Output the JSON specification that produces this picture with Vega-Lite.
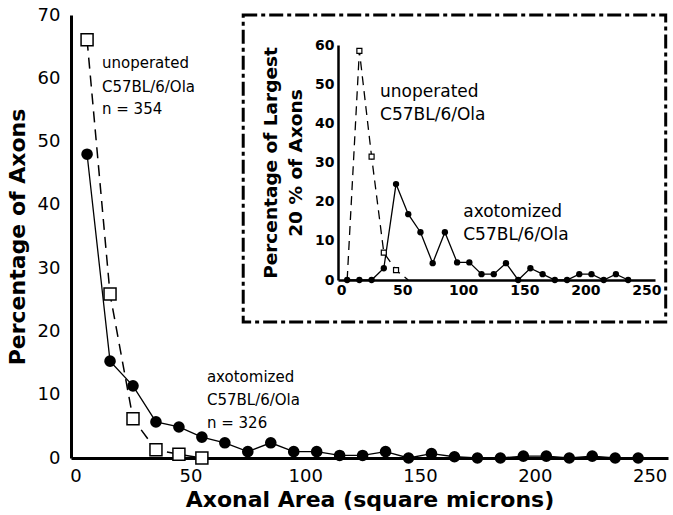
{
  "$schema": "https://vega.github.io/schema/vega-lite/v6.json",
  "width": 597,
  "height": 443,
  "autosize": "none",
  "padding": {"left": 71, "top": 15, "right": 5, "bottom": 57},
  "background": "white",
  "config": {
    "view": {"stroke": null},
    "font": "DejaVu Sans",
    "axis": {"grid": false, "domainColor": "black", "labelColor": "black", "titleColor": "black", "ticks": false}
  },
  "datasets": {
    "pts": [
      {"panel": "main", "group": "axotomized", "area": 5, "pct": 48.0},
      {"panel": "main", "group": "axotomized", "area": 15, "pct": 15.3},
      {"panel": "main", "group": "axotomized", "area": 25, "pct": 11.4},
      {"panel": "main", "group": "axotomized", "area": 35, "pct": 5.7},
      {"panel": "main", "group": "axotomized", "area": 45, "pct": 4.9},
      {"panel": "main", "group": "axotomized", "area": 55, "pct": 3.3},
      {"panel": "main", "group": "axotomized", "area": 65, "pct": 2.4},
      {"panel": "main", "group": "axotomized", "area": 75, "pct": 1.0},
      {"panel": "main", "group": "axotomized", "area": 85, "pct": 2.4},
      {"panel": "main", "group": "axotomized", "area": 95, "pct": 1.0},
      {"panel": "main", "group": "axotomized", "area": 105, "pct": 1.0},
      {"panel": "main", "group": "axotomized", "area": 115, "pct": 0.4},
      {"panel": "main", "group": "axotomized", "area": 125, "pct": 0.4},
      {"panel": "main", "group": "axotomized", "area": 135, "pct": 1.0},
      {"panel": "main", "group": "axotomized", "area": 145, "pct": 0.0},
      {"panel": "main", "group": "axotomized", "area": 155, "pct": 0.7},
      {"panel": "main", "group": "axotomized", "area": 165, "pct": 0.2},
      {"panel": "main", "group": "axotomized", "area": 175, "pct": 0.0},
      {"panel": "main", "group": "axotomized", "area": 185, "pct": 0.0},
      {"panel": "main", "group": "axotomized", "area": 195, "pct": 0.3},
      {"panel": "main", "group": "axotomized", "area": 205, "pct": 0.3},
      {"panel": "main", "group": "axotomized", "area": 215, "pct": 0.0},
      {"panel": "main", "group": "axotomized", "area": 225, "pct": 0.3},
      {"panel": "main", "group": "axotomized", "area": 235, "pct": 0.0},
      {"panel": "main", "group": "axotomized", "area": 245, "pct": 0.0},
      {"panel": "main", "group": "unoperated", "area": 5, "pct": 66.1},
      {"panel": "main", "group": "unoperated", "area": 15, "pct": 25.9},
      {"panel": "main", "group": "unoperated", "area": 25, "pct": 6.2},
      {"panel": "main", "group": "unoperated", "area": 35, "pct": 1.3},
      {"panel": "main", "group": "unoperated", "area": 45, "pct": 0.6},
      {"panel": "main", "group": "unoperated", "area": 55, "pct": 0.0},
      {"panel": "inset", "group": "axotomized", "area": 5, "pct": 0},
      {"panel": "inset", "group": "axotomized", "area": 15, "pct": 0},
      {"panel": "inset", "group": "axotomized", "area": 25, "pct": 0},
      {"panel": "inset", "group": "axotomized", "area": 35, "pct": 3.0},
      {"panel": "inset", "group": "axotomized", "area": 45, "pct": 24.5},
      {"panel": "inset", "group": "axotomized", "area": 55, "pct": 16.8},
      {"panel": "inset", "group": "axotomized", "area": 65, "pct": 12.2},
      {"panel": "inset", "group": "axotomized", "area": 75, "pct": 4.3},
      {"panel": "inset", "group": "axotomized", "area": 85, "pct": 12.2},
      {"panel": "inset", "group": "axotomized", "area": 95, "pct": 4.5},
      {"panel": "inset", "group": "axotomized", "area": 105, "pct": 4.5},
      {"panel": "inset", "group": "axotomized", "area": 115, "pct": 1.5},
      {"panel": "inset", "group": "axotomized", "area": 125, "pct": 1.5},
      {"panel": "inset", "group": "axotomized", "area": 135, "pct": 4.3},
      {"panel": "inset", "group": "axotomized", "area": 145, "pct": 0},
      {"panel": "inset", "group": "axotomized", "area": 155, "pct": 3.0},
      {"panel": "inset", "group": "axotomized", "area": 165, "pct": 1.5},
      {"panel": "inset", "group": "axotomized", "area": 175, "pct": 0},
      {"panel": "inset", "group": "axotomized", "area": 185, "pct": 0},
      {"panel": "inset", "group": "axotomized", "area": 195, "pct": 1.5},
      {"panel": "inset", "group": "axotomized", "area": 205, "pct": 1.5},
      {"panel": "inset", "group": "axotomized", "area": 215, "pct": 0},
      {"panel": "inset", "group": "axotomized", "area": 225, "pct": 1.5},
      {"panel": "inset", "group": "axotomized", "area": 235, "pct": 0},
      {"panel": "inset", "group": "unoperated", "area": 5, "pct": 0},
      {"panel": "inset", "group": "unoperated", "area": 15, "pct": 58.5},
      {"panel": "inset", "group": "unoperated", "area": 25, "pct": 31.5},
      {"panel": "inset", "group": "unoperated", "area": 35, "pct": 7.0},
      {"panel": "inset", "group": "unoperated", "area": 45, "pct": 2.5},
      {"panel": "inset", "group": "unoperated", "area": 55, "pct": 0}
    ],
    "box": [{"area": 73, "area2": 257, "pct": 21.5, "pct2": 70}],
    "notes": [
      {"panel": "main", "area": 11.5, "pct": 62.4, "label": "unoperated"},
      {"panel": "main", "area": 11.5, "pct": 58.6, "label": "C57BL/6/Ola"},
      {"panel": "main", "area": 11.5, "pct": 55.1, "label": "n = 354"},
      {"panel": "main", "area": 57.2, "pct": 12.8, "label": "axotomized"},
      {"panel": "main", "area": 57.2, "pct": 9.2, "label": "C57BL/6/Ola"},
      {"panel": "main", "area": 57.2, "pct": 5.5, "label": "n = 326"},
      {"panel": "inset", "area": 31.9, "pct": 48.0, "label": "unoperated"},
      {"panel": "inset", "area": 31.9, "pct": 42.1, "label": "C57BL/6/Ola"},
      {"panel": "inset", "area": 100, "pct": 17.4, "label": "axotomized"},
      {"panel": "inset", "area": 100, "pct": 11.5, "label": "C57BL/6/Ola"}
    ]
  },
  "layer": [
    {
      "encoding": {
        "x": {"field": "area", "type": "quantitative",
          "scale": {"domain": [-2, 258], "nice": false, "zero": false},
          "axis": {"values": [0, 50, 100, 150, 200, 250], "labelFontSize": 18, "labelPadding": 9, "domainWidth": 3,
            "title": "Axonal Area (square microns)", "titleFontSize": 22, "titleFontWeight": "bold", "titlePadding": 4}},
        "y": {"field": "pct", "type": "quantitative",
          "scale": {"domain": [0, 70], "nice": false, "zero": false},
          "axis": {"values": [0, 10, 20, 30, 40, 50, 60, 70], "labelFontSize": 18, "labelPadding": 11, "domainWidth": 3,
            "title": "Percentage of Axons", "titleFontSize": 22, "titleFontWeight": "bold", "titlePadding": 8}}
      },
      "layer": [
        {
          "data": {"name": "box"},
          "mark": {"type": "rect", "fill": "transparent", "stroke": "black", "strokeWidth": 3, "strokeDash": [14, 4, 4, 4]},
          "encoding": {
            "x2": {"field": "area2"},
            "y2": {"field": "pct2"}
          }
        },
        {
          "data": {"name": "pts"},
          "transform": [{"filter": "datum.panel === 'main' && datum.group === 'unoperated'"}],
          "mark": {"type": "line", "color": "black", "strokeWidth": 1.5, "strokeDash": [11, 7]}
        },
        {
          "data": {"name": "pts"},
          "transform": [{"filter": "datum.panel === 'main' && datum.group === 'axotomized'"}],
          "mark": {"type": "line", "color": "black", "strokeWidth": 1.3}
        },
        {
          "data": {"name": "pts"},
          "transform": [{"filter": "datum.panel === 'main' && datum.group === 'unoperated'"}],
          "mark": {"type": "point", "shape": "square", "size": 144, "filled": true, "fill": "white", "stroke": "black", "strokeWidth": 1.5, "opacity": 1}
        },
        {
          "data": {"name": "pts"},
          "transform": [{"filter": "datum.panel === 'main' && datum.group === 'axotomized'"}],
          "mark": {"type": "point", "shape": "circle", "size": 135, "filled": true, "color": "black", "opacity": 1}
        },
        {
          "data": {"name": "notes"},
          "transform": [{"filter": "datum.panel === 'main'"}],
          "mark": {"type": "text", "align": "left", "baseline": "middle", "fontSize": 15, "color": "black"},
          "encoding": {"text": {"field": "label"}}
        }
      ]
    },
    {
      "encoding": {
        "x": {"field": "area", "type": "quantitative",
          "scale": {"domain": [-2.5, 257], "range": [267, 584], "nice": false, "zero": false},
          "axis": {"orient": "bottom", "offset": -178, "zindex": 1, "values": [0, 50, 100, 150, 200, 250], "labelFontSize": 14, "labelFontWeight": "bold", "labelPadding": 3, "domainWidth": 2.5, "title": null}},
        "y": {"field": "pct", "type": "quantitative",
          "scale": {"domain": [0, 60], "range": [265, 30], "nice": false, "zero": false},
          "axis": {"orient": "left", "offset": -267, "zindex": 1, "values": [0, 10, 20, 30, 40, 50, 60], "labelFontSize": 14, "labelFontWeight": "bold", "labelPadding": 4, "domainWidth": 2.5,
            "title": ["Percentage of Largest", "20 % of Axons"], "titleFontSize": 18.5, "titleFontWeight": "bold", "titlePadding": 9, "titleLineHeight": 25}}
      },
      "layer": [
        {
          "data": {"name": "pts"},
          "transform": [{"filter": "datum.panel === 'inset' && datum.group === 'unoperated'"}],
          "mark": {"type": "line", "color": "black", "strokeWidth": 1.3, "strokeDash": [9, 6]}
        },
        {
          "data": {"name": "pts"},
          "transform": [{"filter": "datum.panel === 'inset' && datum.group === 'axotomized'"}],
          "mark": {"type": "line", "color": "black", "strokeWidth": 1.3}
        },
        {
          "data": {"name": "pts"},
          "transform": [{"filter": "datum.panel === 'inset' && datum.group === 'unoperated' && datum.pct > 0"}],
          "mark": {"type": "point", "shape": "square", "size": 25, "filled": true, "fill": "white", "stroke": "black", "strokeWidth": 1.2, "opacity": 1}
        },
        {
          "data": {"name": "pts"},
          "transform": [{"filter": "datum.panel === 'inset' && datum.group === 'axotomized'"}],
          "mark": {"type": "point", "shape": "circle", "size": 40, "filled": true, "color": "black", "opacity": 1}
        },
        {
          "data": {"name": "notes"},
          "transform": [{"filter": "datum.panel === 'inset'"}],
          "mark": {"type": "text", "align": "left", "baseline": "middle", "fontSize": 17, "color": "black"},
          "encoding": {"text": {"field": "label"}}
        }
      ]
    }
  ],
  "resolve": {"scale": {"x": "independent", "y": "independent"}, "axis": {"x": "independent", "y": "independent"}}
}
